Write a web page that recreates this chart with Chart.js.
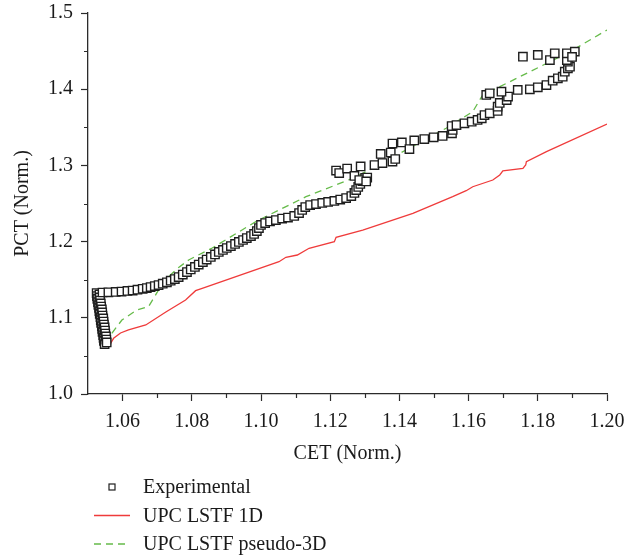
<!DOCTYPE html>
<html>
<head>
<meta charset="utf-8">
<script src="https://cdn.jsdelivr.net/npm/chart.js@4.4.1/dist/chart.umd.min.js"></script>
<style>
    html, body { margin: 0; padding: 0; background: #fff; }
</style>
</head>
<body>
<canvas id="pctChart" width="637" height="560"></canvas>
<script>
        // measured points, [CET, PCT] normalised
        const experimental = [
            [1.0525,1.1325],[1.0526,1.1286],[1.0527,1.1247],[1.0529,1.1207],[1.0530,1.1168],[1.0532,1.1129],
            [1.0533,1.1089],[1.0534,1.1050],[1.0536,1.1010],[1.0537,1.0971],[1.0538,1.0932],[1.0540,1.0892],
            [1.0541,1.0853],[1.0542,1.0814],[1.0544,1.0774],[1.0545,1.0735],[1.0546,1.0696],[1.0548,1.0656],
            [1.0533,1.1306],[1.0534,1.1267],[1.0535,1.1227],[1.0537,1.1188],[1.0538,1.1148],[1.0540,1.1109],
            [1.0541,1.1070],[1.0542,1.1030],[1.0544,1.0991],[1.0545,1.0951],[1.0546,1.0912],[1.0548,1.0873],
            [1.0549,1.0833],[1.0550,1.0794],[1.0552,1.0755],[1.0553,1.0715],[1.0554,1.0676],
            [1.0542,1.1332],[1.0559,1.1335],[1.0580,1.1339],[1.0597,1.1345],[1.0614,1.1352],[1.0629,1.1358],
            [1.0643,1.1369],[1.0658,1.1381],[1.0670,1.1391],[1.0681,1.1404],[1.0693,1.1417],[1.0704,1.1430],
            [1.0716,1.1448],[1.0728,1.1466],[1.0739,1.1487],[1.0751,1.1509],[1.0762,1.1535],[1.0774,1.1568],
            [1.0786,1.1601],[1.0797,1.1634],[1.0809,1.1667],[1.0820,1.1699],[1.0832,1.1732],[1.0843,1.1765],
            [1.0855,1.1798],[1.0867,1.1831],[1.0878,1.1864],[1.0890,1.1890],[1.0901,1.1916],[1.0913,1.1942],
            [1.0925,1.1969],[1.0936,1.1995],[1.0948,1.2021],[1.0959,1.2047],[1.0971,1.2073],[1.0980,1.2100],
            [1.0988,1.2139],[1.0994,1.2178],[1.1000,1.2218],[1.1012,1.2244],[1.1026,1.2264],[1.1043,1.2283],
            [1.1061,1.2303],[1.1078,1.2316],[1.1096,1.2336],[1.1110,1.2375],[1.1119,1.2415],[1.1128,1.2454],
            [1.1142,1.2480],[1.1159,1.2493],[1.1177,1.2507],[1.1194,1.2520],[1.1212,1.2533],[1.1229,1.2552],
            [1.1246,1.2572],[1.1261,1.2598],[1.1270,1.2638],[1.1275,1.2677],[1.1281,1.2717],[1.1287,1.2756],
            [1.1293,1.2795],[1.1301,1.2835],
            [1.1217,1.2933],[1.1226,1.2900],[1.1249,1.2959],[1.1270,1.2861],[1.1288,1.2986],[1.1284,1.2808],
            [1.1307,1.2841],[1.1304,1.2789],
            [1.1328,1.3005],[1.1351,1.3031],[1.1346,1.3150],[1.1380,1.3051],[1.1375,1.3169],[1.1388,1.3084],
            [1.1380,1.3287],[1.1407,1.3301],[1.1429,1.3215],[1.1443,1.3327],[1.1472,1.3346],[1.1499,1.3369],
            [1.1525,1.3386],[1.1552,1.3421],[1.1554,1.3465],[1.1551,1.3517],[1.1565,1.3530],[1.1588,1.3552],
            [1.1609,1.3574],[1.1626,1.3596],[1.1638,1.3618],[1.1646,1.3661],[1.1661,1.3684],[1.1684,1.3714],
            [1.1684,1.3770],[1.1690,1.3819],[1.1710,1.3858],[1.1714,1.3904],[1.1651,1.3924],[1.1661,1.3946],
            [1.1695,1.3967],[1.1742,1.3990],[1.1777,1.3999],[1.1800,1.4025],[1.1825,1.4055],[1.1843,1.4112],
            [1.1858,1.4143],[1.1872,1.4164],[1.1878,1.4230],[1.1887,1.4274],[1.1893,1.4295],[1.1887,1.4361],
            [1.1884,1.4383],[1.1757,1.4427],[1.1800,1.4449],[1.1835,1.4383],[1.1849,1.4471],[1.1884,1.4471],
            [1.1907,1.4493],[1.1899,1.4423]
        ];

        // UPC LSTF 1D calculation
        const lstf1dCET = [1.0559, 1.0574, 1.0594, 1.0617, 1.0667, 1.0725, 1.0782, 1.0811, 1.0830, 1.1052,
                           1.1072, 1.1105, 1.1139, 1.1212, 1.1217, 1.1294, 1.1439, 1.1554, 1.1593, 1.1612,
                           1.1670, 1.1690, 1.1699, 1.1757, 1.1765, 1.1767, 1.1825, 1.2000];
        const lstf1dPCT = [1.0617, 1.0731, 1.0801, 1.0840, 1.0906, 1.1076, 1.1234, 1.1356, 1.1387, 1.1736,
                           1.1794, 1.1824, 1.1912, 1.1999, 1.2056, 1.2152, 1.2371, 1.2589, 1.2668, 1.2720,
                           1.2808, 1.2874, 1.2927, 1.2962, 1.3005, 1.3049, 1.3180, 1.3543];

        // UPC LSTF pseudo-3D calculation
        const pseudo3dCET = [1.0561, 1.0569, 1.0598, 1.0641, 1.0675, 1.0704, 1.0738, 1.0762, 1.0791, 1.0859,
                             1.0988, 1.1130, 1.1265, 1.1332, 1.1419, 1.1535, 1.1612, 1.1632, 1.1641, 1.1719,
                             1.1806, 1.1893, 1.2000];
        const pseudo3dPCT = [1.0643, 1.0797, 1.0971, 1.1102, 1.1146, 1.1365, 1.1562, 1.1660, 1.1759, 1.1916,
                             1.2270, 1.2589, 1.2831, 1.2983, 1.3202, 1.3487, 1.3705, 1.3858, 1.3924, 1.4098,
                             1.4295, 1.4492, 1.4777];

        const seriesNames = ['Experimental', 'UPC LSTF 1D', 'UPC LSTF pseudo-3D'];
        const xTickValues = [1.06, 1.08, 1.10, 1.12, 1.14, 1.16, 1.18, 1.20];
        const xMinorValues = [1.07, 1.09, 1.11, 1.13, 1.15, 1.17, 1.19];
        const yTickValues = [1.0, 1.1, 1.2, 1.3, 1.4, 1.5];
        const yMinorValues = [1.05, 1.15, 1.25, 1.35, 1.45];

        const axisColor = '#2b2b2b';
        const textColor = '#1a1a1a';
        const serif = '"Liberation Serif", "Times New Roman", serif';
        const redLine = '#ef3b3b';
        const greenLine = '#66bb4a';

        const toPoints = (xs, ys) => xs.map((x, i) => ({ x: x, y: ys[i] }));

        // short ticks between the labelled ones
        const minorTicks = {
            id: 'minorTicks',
            afterDraw(chart) {
                const ctx = chart.ctx;
                const xs = chart.scales.x, ys = chart.scales.y;
                ctx.save();
                ctx.strokeStyle = axisColor;
                ctx.lineWidth = 1.2;
                ctx.beginPath();
                xMinorValues.forEach(v => {
                    const px = Math.round(xs.getPixelForValue(v)) + 0.5;
                    ctx.moveTo(px, xs.top);
                    ctx.lineTo(px, xs.top + 4);
                });
                yMinorValues.forEach(v => {
                    const py = Math.round(ys.getPixelForValue(v)) + 0.5;
                    ctx.moveTo(ys.right, py);
                    ctx.lineTo(ys.right - 4, py);
                });
                ctx.stroke();
                ctx.restore();
            }
        };

        // legend stacked under the x axis title
        const stackedLegend = {
            id: 'stackedLegend',
            afterDraw(chart) {
                const ctx = chart.ctx;
                const x0 = 94, x1 = 130, textX = 143;
                ctx.save();
                ctx.font = '20px ' + serif;
                ctx.textBaseline = 'middle';
                chart.data.datasets.forEach((ds, i) => {
                    const y = 487 + i * 28.5;
                    if (i === 0) {
                        ctx.fillStyle = '#fff';
                        ctx.strokeStyle = ds.borderColor;
                        ctx.lineWidth = 1.2;
                        ctx.fillRect(109, y - 3, 6, 6);
                        ctx.strokeRect(109, y - 3, 6, 6);
                    } else {
                        ctx.strokeStyle = ds.borderColor;
                        ctx.lineWidth = ds.borderWidth;
                        ctx.setLineDash(ds.borderDash || []);
                        ctx.beginPath();
                        ctx.moveTo(x0, y);
                        ctx.lineTo(x1, y);
                        ctx.stroke();
                        ctx.setLineDash([]);
                    }
                    ctx.fillStyle = textColor;
                    ctx.fillText(ds.label, textX, y + 1);
                });
                ctx.restore();
            }
        };

        const ctx = document.getElementById('pctChart').getContext('2d');

        new Chart(ctx, {
            type: 'scatter',
            data: {
                datasets: [{
                    label: seriesNames[0],
                    data: experimental.map(p => ({ x: p[0], y: p[1] })),
                    pointStyle: 'rect',
                    pointRadius: 5.9,
                    borderWidth: 1.4,
                    borderColor: '#1e1e1e',
                    backgroundColor: '#ffffff'
                }, {
                    label: seriesNames[1],
                    data: toPoints(lstf1dCET, lstf1dPCT),
                    showLine: true,
                    pointRadius: 0,
                    borderColor: redLine,
                    borderWidth: 1.3,
                    tension: 0
                }, {
                    label: seriesNames[2],
                    data: toPoints(pseudo3dCET, pseudo3dPCT),
                    showLine: true,
                    pointRadius: 0,
                    borderColor: greenLine,
                    borderWidth: 1.3,
                    borderDash: [7, 5],
                    tension: 0
                }]
            },
            options: {
                responsive: false,
                animation: false,
                layout: { padding: { left: 0, right: 30, top: 13, bottom: 94 } },
                plugins: {
                    legend: { display: false },
                    tooltip: { enabled: false }
                },
                scales: {
                    x: {
                        type: 'linear',
                        min: 1.05,
                        max: 1.20,
                        afterBuildTicks: s => { s.ticks = xTickValues.map(v => ({ value: v })); },
                        afterFit: s => { s.height = 72; s.paddingLeft = 0; s.paddingRight = 0; },
                        grid: { drawOnChartArea: false, drawTicks: true, tickLength: 7, tickColor: axisColor, tickWidth: 1.2 },
                        border: { color: axisColor, width: 1.3 },
                        ticks: {
                            callback: v => v.toFixed(2),
                            color: textColor,
                            font: { family: serif, size: 20 },
                            padding: 9,
                            maxRotation: 0
                        },
                        title: {
                            display: true,
                            text: 'CET (Norm.)',
                            color: textColor,
                            font: { family: serif, size: 20 },
                            padding: { top: 2, bottom: 0 }
                        }
                    },
                    y: {
                        type: 'linear',
                        min: 1.0,
                        max: 1.5,
                        afterBuildTicks: s => { s.ticks = yTickValues.map(v => ({ value: v })); },
                        afterFit: s => { s.width = 88; s.paddingTop = 0; s.paddingBottom = 0; },
                        grid: { drawOnChartArea: false, drawTicks: true, tickLength: 7, tickColor: axisColor, tickWidth: 1.2 },
                        border: { color: axisColor, width: 1.3 },
                        ticks: {
                            callback: v => v.toFixed(1),
                            color: textColor,
                            font: { family: serif, size: 20 },
                            padding: 8
                        },
                        title: {
                            display: true,
                            text: 'PCT (Norm.)',
                            color: textColor,
                            font: { family: serif, size: 20 },
                            padding: { top: 11, bottom: 0 }
                        }
                    }
                }
            },
            plugins: [minorTicks, stackedLegend]
        });
</script>
</body>
</html>
